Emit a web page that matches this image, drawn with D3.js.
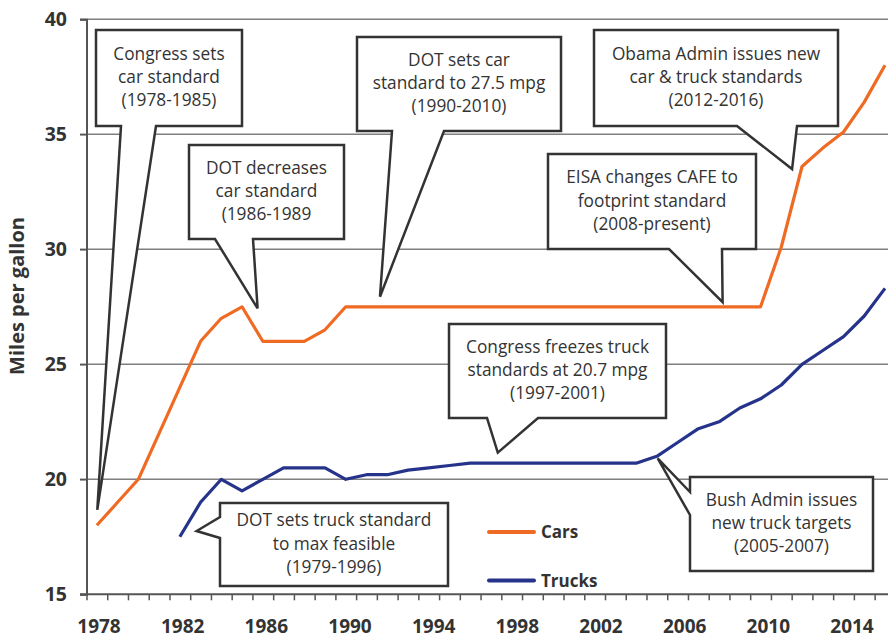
<!DOCTYPE html>
<html>
<head>
<meta charset="utf-8">
<script src="https://cdn.jsdelivr.net/npm/d3@7/dist/d3.min.js"></script>
<style>
  body { margin: 0; background: #fff; }
  svg text { font-family: "Open Sans", Lato, sans-serif; fill: #333; }
</style>
</head>
<body>
<svg id="chart" width="888" height="639"></svg>
<script>
// model years (one category per year)
const years = [1978, 1979, 1980, 1981, 1982, 1983, 1984, 1985, 1986, 1987,
    1988, 1989, 1990, 1991, 1992, 1993, 1994, 1995, 1996, 1997, 1998, 1999,
    2000, 2001, 2002, 2003, 2004, 2005, 2006, 2007, 2008, 2009, 2010, 2011,
    2012, 2013, 2014, 2015, 2016];

// CAFE standard, passenger cars (mpg)
const cars = [18, 19, 20, 22, 24, 26, 27, 27.5, 26, 26,
    26, 26.5, 27.5, 27.5, 27.5, 27.5, 27.5, 27.5, 27.5, 27.5, 27.5, 27.5,
    27.5, 27.5, 27.5, 27.5, 27.5, 27.5, 27.5, 27.5, 27.5, 27.5, 27.5, 30.1,
    33.6, 34.4, 35.1, 36.4, 38.0];

// CAFE standard, light trucks (mpg) - nothing plotted before 1982
const trucks = [null, null, null, null, 17.5, 19, 20, 19.5, 20, 20.5,
    20.5, 20.5, 20, 20.2, 20.2, 20.4, 20.5, 20.6, 20.7, 20.7, 20.7, 20.7,
    20.7, 20.7, 20.7, 20.7, 20.7, 21.0, 21.6, 22.2, 22.5, 23.1, 23.5, 24.1,
    25.0, 25.6, 26.2, 27.1, 28.3];

// axis labels
const xTickLabels = [1978, 1982, 1986, 1990, 1994, 1998, 2002, 2006, 2010, 2014];
const yTicks = [15, 20, 25, 30, 35, 40];

// callout texts and the (year, mpg) point each one points at
const calloutTexts = [
    ["Congress sets", "car standard", "(1978-1985)"],
    ["DOT decreases", "car standard", "(1986-1989"],
    ["DOT sets car", "standard to 27.5 mpg", "(1990-2010)"],
    ["EISA changes CAFE to", "footprint standard", "(2008-present)"],
    ["Obama Admin issues new", "car & truck standards", "(2012-2016)"],
    ["Congress freezes truck", "standards at 20.7 mpg", "(1997-2001)"],
    ["DOT sets truck standard", "to max feasible", "(1979-1996)"],
    ["Bush Admin issues", "new truck targets", "(2005-2007)"]
];
const calloutTargets = [
    [1978.02, 18.67], [1985.75, 27.43], [1991.65, 27.94], [2008.17, 27.7],
    [2011.52, 33.49], [1997.33, 21.16], [1982.81, 17.75], [2005.04, 20.91]
];

// box layout (pixels): pointer leaves the bottom or left edge between p0 and p1
const calloutBoxes = [
    {x: 96, y: 30, w: 146, h: 96, side: "bottom", p0: 121, p1: 156},
    {x: 189, y: 145, w: 155, h: 94, side: "bottom", p0: 215, p1: 253},
    {x: 357, y: 37, w: 204, h: 94, side: "bottom", p0: 392, p1: 444},
    {x: 548, y: 154, w: 208, h: 95, side: "bottom", p0: 669, p1: 722},
    {x: 594, y: 30, w: 244, h: 96, side: "bottom", p0: 737, p1: 797},
    {x: 449, y: 324, w: 217, h: 94, side: "bottom", p0: 487, p1: 538},
    {x: 220, y: 503, w: 228, h: 83, side: "left", p0: 517, p1: 538},
    {x: 690, y: 477, w: 183, h: 94, side: "left", p0: 492, p1: 515}
];

const ORANGE = "#ef6a22", NAVY = "#26338a";

const svg = d3.select("#chart");

// scales: categories are 20.74px apart, axis starts half a category left
const x = d3.scaleLinear().domain([1977.5, 2016]).range([86.5, 885]);
const y = d3.scaleLinear().domain([15, 40]).range([594.3, 19.3]);
// the year labels sit a touch wider than the categories in the original
const xLabel = d3.scaleLinear().domain([1978, 2014]).range([99, 852]);

// horizontal gridlines
svg.append("g")
    .selectAll("line")
    .data(yTicks.filter(d => d > 15))
    .join("line")
    .attr("x1", 80).attr("x2", 888)
    .attr("y1", d => y(d)).attr("y2", d => y(d))
    .attr("stroke", "#7f7f7f")
    .attr("stroke-width", 1.5);

// y axis
const yAxis = svg.append("g")
    .attr("transform", `translate(${x(1977.5)},0)`)
    .call(d3.axisLeft(y).tickValues(yTicks).tickSize(6.5).tickPadding(13));
yAxis.select(".domain").attr("stroke", "#555").attr("stroke-width", 2);
yAxis.selectAll(".tick line").attr("stroke", "#555").attr("stroke-width", 1.5);
yAxis.selectAll(".tick text")
    .attr("font-size", 19.5).attr("font-weight", "bold")
    .style("font-family", "'Open Sans', sans-serif").style("fill", "#333");

// x axis: ticks between categories
const xAxis = svg.append("g")
    .attr("transform", `translate(0,${y(15)})`)
    .call(d3.axisBottom(x).tickValues(years.map(d => d - 0.5)).tickSize(6)
        .tickFormat(""));
xAxis.select(".domain").remove();
xAxis.selectAll(".tick line").attr("stroke", "#555").attr("stroke-width", 1.5);
svg.append("line")
    .attr("x1", 80).attr("x2", 888)
    .attr("y1", y(15)).attr("y2", y(15))
    .attr("stroke", "#555").attr("stroke-width", 2);

// year labels, kept just clear of the bottom edge
svg.append("g")
    .selectAll("text")
    .data(xTickLabels)
    .join("text")
    .attr("x", d => xLabel(d))
    .attr("y", 633)
    .attr("text-anchor", "middle")
    .attr("font-size", 19)
    .attr("font-weight", "bold")
    .text(d => d);

// y axis title
svg.append("text")
    .attr("transform", "translate(17,296) rotate(-90)")
    .attr("dy", "0.35em")
    .attr("text-anchor", "middle")
    .attr("font-size", 20)
    .attr("font-weight", "bold")
    .text("Miles per gallon");

// series lines
const line = d3.line()
    .defined(d => d[1] !== null)
    .x(d => x(d[0]))
    .y(d => y(d[1]));

[[cars, ORANGE], [trucks, NAVY]].forEach(([vals, color]) => {
    svg.append("path")
        .datum(years.map((yr, i) => [yr, vals[i]]))
        .attr("d", line)
        .attr("fill", "none")
        .attr("stroke", color)
        .attr("stroke-width", 3.2)
        .attr("stroke-linejoin", "round");
});

// legend
const legend = svg.append("g");
[["Cars", ORANGE, 532], ["Trucks", NAVY, 580.5]].forEach(([name, color, ly]) => {
    legend.append("line")
        .attr("x1", 489).attr("x2", 534)
        .attr("y1", ly).attr("y2", ly)
        .attr("stroke", color).attr("stroke-width", 4)
        .attr("stroke-linecap", "round");
    legend.append("text")
        .attr("x", 541).attr("y", ly)
        .attr("dy", "0.36em")
        .attr("font-size", 17)
        .attr("font-weight", "bold")
        .text(name);
});

// callout shape: rectangle with a wedge running out to the target
function calloutPath(b, tip) {
    const p = d3.path();
    const x1 = b.x + b.w, y1 = b.y + b.h;
    p.moveTo(b.x, b.y);
    p.lineTo(x1, b.y);
    p.lineTo(x1, y1);
    if (b.side === "bottom") {
        p.lineTo(b.p1, y1);
        p.lineTo(tip[0], tip[1]);
        p.lineTo(b.p0, y1);
        p.lineTo(b.x, y1);
    } else {
        p.lineTo(b.x, y1);
        p.lineTo(b.x, b.p1);
        p.lineTo(tip[0], tip[1]);
        p.lineTo(b.x, b.p0);
    }
    p.closePath();
    return p.toString();
}

const callouts = svg.append("g")
    .selectAll("g")
    .data(calloutBoxes.map((b, i) => ({
        box: b, text: calloutTexts[i], target: calloutTargets[i]
    })))
    .join("g");

callouts.append("path")
    .attr("d", d => calloutPath(d.box,
        [x(d.target[0]), y(d.target[1])]))
    .attr("fill", "#fff")
    .attr("stroke", "#333")
    .attr("stroke-width", 2.5)
    .attr("stroke-linejoin", "miter");

callouts.append("text")
    .attr("text-anchor", "middle")
    .attr("font-size", 17.3)
    .each(function(d) {
        const cx = d.box.x + d.box.w / 2;
        const cy = d.box.y + d.box.h / 2 - 1;
        d3.select(this).selectAll("tspan")
            .data(d.text)
            .join("tspan")
            .attr("x", cx)
            .attr("y", (t, i) => cy + (i - 1) * 23.3)
            .attr("dy", "0.35em")
            .text(t => t);
    });
</script>
</body>
</html>
